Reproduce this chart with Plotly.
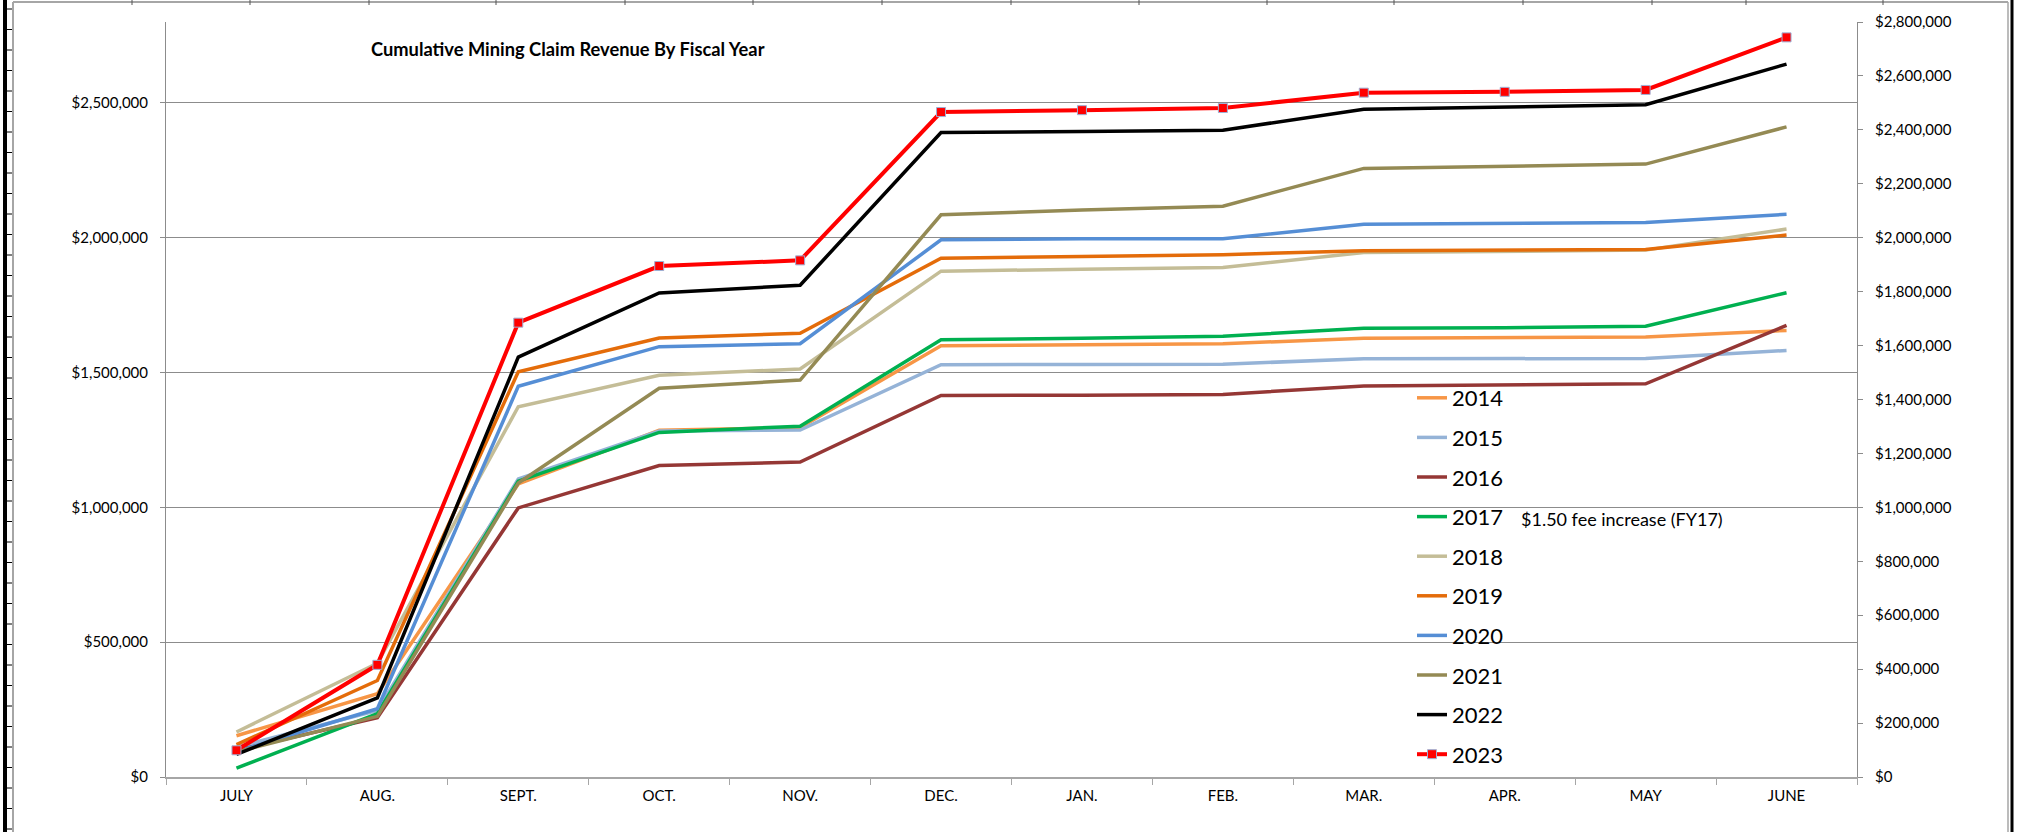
import plotly.graph_objects as go

# Months of the fiscal year (July - June)
months = ['JULY', 'AUG.', 'SEPT.', 'OCT.', 'NOV.', 'DEC.', 'JAN.', 'FEB.', 'MAR.', 'APR.', 'MAY', 'JUNE']

# Cumulative revenue by fiscal year, dollars
fy2014 = [153000, 309000, 1087000, 1286000, 1296000, 1599000, 1603000, 1607000, 1627000, 1629000, 1632000, 1656000]
fy2015 = [111000, 247000, 1105000, 1283000, 1287000, 1529000, 1530000, 1531000, 1551000, 1550000, 1552000, 1582000]
fy2016 = [99000, 220000, 998000, 1155000, 1168000, 1415000, 1416000, 1419000, 1450000, 1453000, 1458000, 1675000]
fy2017 = [33000, 235000, 1097000, 1278000, 1301000, 1622000, 1627000, 1635000, 1664000, 1666000, 1672000, 1796000]
fy2018 = [167000, 422000, 1373000, 1490000, 1513000, 1876000, 1883000, 1890000, 1945000, 1950000, 1954000, 2032000]
fy2019 = [120000, 358000, 1503000, 1628000, 1646000, 1924000, 1930000, 1937000, 1952000, 1953000, 1956000, 2010000]
fy2020 = [95000, 253000, 1449000, 1596000, 1607000, 1992000, 1996000, 1996000, 2050000, 2052000, 2056000, 2087000]
fy2021 = [93000, 225000, 1090000, 1442000, 1472000, 2085000, 2103000, 2117000, 2257000, 2264000, 2273000, 2411000]
fy2022 = [84000, 293000, 1557000, 1795000, 1824000, 2390000, 2394000, 2399000, 2476000, 2483000, 2493000, 2644000]
fy2023 = [99000, 416000, 1685000, 1895000, 1916000, 2466000, 2473000, 2481000, 2538000, 2541000, 2548000, 2743000]

years = ['2014', '2015', '2016', '2017', '2018', '2019', '2020', '2021', '2022', '2023']
series = [fy2014, fy2015, fy2016, fy2017, fy2018, fy2019, fy2020, fy2021, fy2022, fy2023]
colors = ['#F79646', '#95B3D7', '#953735', '#00B050', '#C4BD97',
          '#E46C0A', '#558ED5', '#948A54', '#000000', '#FF0000']

fig = go.Figure()

for year, values, color in zip(years, series, colors):
    if year == '2023':
        # last year: with square markers, on the right axis (drawn on top)
        fig.add_trace(go.Scatter(
            x=months, y=values, name=year, legendgroup=year,
            mode='lines+markers', yaxis='y2',
            line=dict(color=color, width=4),
            marker=dict(symbol='square', size=9, color=color,
                        line=dict(color='#9DB1D6', width=1))
        ))
    else:
        fig.add_trace(go.Scatter(
            x=months, y=values, name=year, legendgroup=year,
            mode='lines', line=dict(color=color, width=3.5)
        ))

# pixel -> paper helpers for the frame around the chart
L, R, T, B = 166, 1857, 22, 777


def px(x):
    return (x - L) / (R - L)


def py(y):
    return (B - y) / (B - T)


shapes = []
# thick black edge on the left with ruler ticks
shapes.append(dict(type='line', xref='paper', yref='paper', x0=px(5), x1=px(5),
                   y0=py(0), y1=py(832), line=dict(color='black', width=4)))
y = 9.0
while y < 832:
    shapes.append(dict(type='line', xref='paper', yref='paper', x0=px(6), x1=px(12),
                       y0=py(y), y1=py(y), line=dict(color='black', width=1)))
    y += 20.5
# grey border of the chart area
shapes.append(dict(type='line', xref='paper', yref='paper', x0=px(13), x1=px(13),
                   y0=py(2), y1=py(832), line=dict(color='#a6a6a6', width=2)))
shapes.append(dict(type='line', xref='paper', yref='paper', x0=px(13), x1=px(2008),
                   y0=py(2), y1=py(2), line=dict(color='#a6a6a6', width=2)))
shapes.append(dict(type='line', xref='paper', yref='paper', x0=px(2008), x1=px(2008),
                   y0=py(2), y1=py(832), line=dict(color='#a6a6a6', width=1.5)))
shapes.append(dict(type='line', xref='paper', yref='paper', x0=px(2012), x1=px(2012),
                   y0=py(0), y1=py(832), line=dict(color='black', width=3)))
# column marks along the top edge
for x in [132, 250, 369, 496, 625, 753, 882, 1011, 1139, 1267, 1394, 1523, 1652, 1746, 1883]:
    shapes.append(dict(type='line', xref='paper', yref='paper', x0=px(x), x1=px(x),
                       y0=py(0), y1=py(5), line=dict(color='#555555', width=1)))

fig.update_layout(
    width=2022, height=832,
    margin=dict(l=L, r=2022 - R, t=T, b=832 - B),
    paper_bgcolor='white', plot_bgcolor='white',
    font=dict(family='Lato, "Noto Sans", sans-serif', color='black', size=15),
    shapes=shapes,
    legend=dict(x=px(1412), y=py(377), xanchor='left', yanchor='top',
                bgcolor='rgba(0,0,0,0)', font=dict(size=22),
                traceorder='grouped', tracegroupgap=8),
    xaxis=dict(type='category', range=[-0.5, 11.5], showgrid=False, showline=True,
               linecolor='#a6a6a6', linewidth=2, ticks='outside',
               tickson='boundaries', ticklen=6, tickcolor='#a6a6a6',
               tickfont=dict(size=15), ticklabelstandoff=4, fixedrange=True),
    yaxis=dict(range=[0, 2800000], tick0=0, dtick=500000, tickprefix='$', tickformat=',d',
               showgrid=True, gridcolor='#8c8c8c', gridwidth=1, zeroline=False,
               showline=True, linecolor='#8c8c8c', linewidth=1,
               ticks='outside', ticklen=5, tickcolor='#8c8c8c',
               tickfont=dict(size=15), ticklabelstandoff=9, fixedrange=True),
    yaxis2=dict(overlaying='y', side='right', range=[0, 2800000], tick0=0, dtick=200000,
                tickprefix='$', tickformat=',d', showgrid=False, zeroline=False,
                showline=True, linecolor='#8c8c8c', linewidth=1,
                ticks='outside', ticklen=5, tickcolor='#8c8c8c',
                tickfont=dict(size=15), ticklabelstandoff=9, fixedrange=True),
    annotations=[
        dict(text='<b>Cumulative Mining Claim Revenue By Fiscal Year</b>',
             xref='paper', yref='paper', x=px(369), y=py(49),
             xanchor='left', yanchor='middle', showarrow=False, font=dict(size=18.3)),
        dict(text='$1.50 fee increase (FY17)',
             xref='paper', yref='paper', x=px(1519), y=py(519),
             xanchor='left', yanchor='middle', showarrow=False, font=dict(size=18)),
    ],
)

fig.write_html("out.html", config={'displayModeBar': False},
               post_script="document.body.style.margin='0';")
